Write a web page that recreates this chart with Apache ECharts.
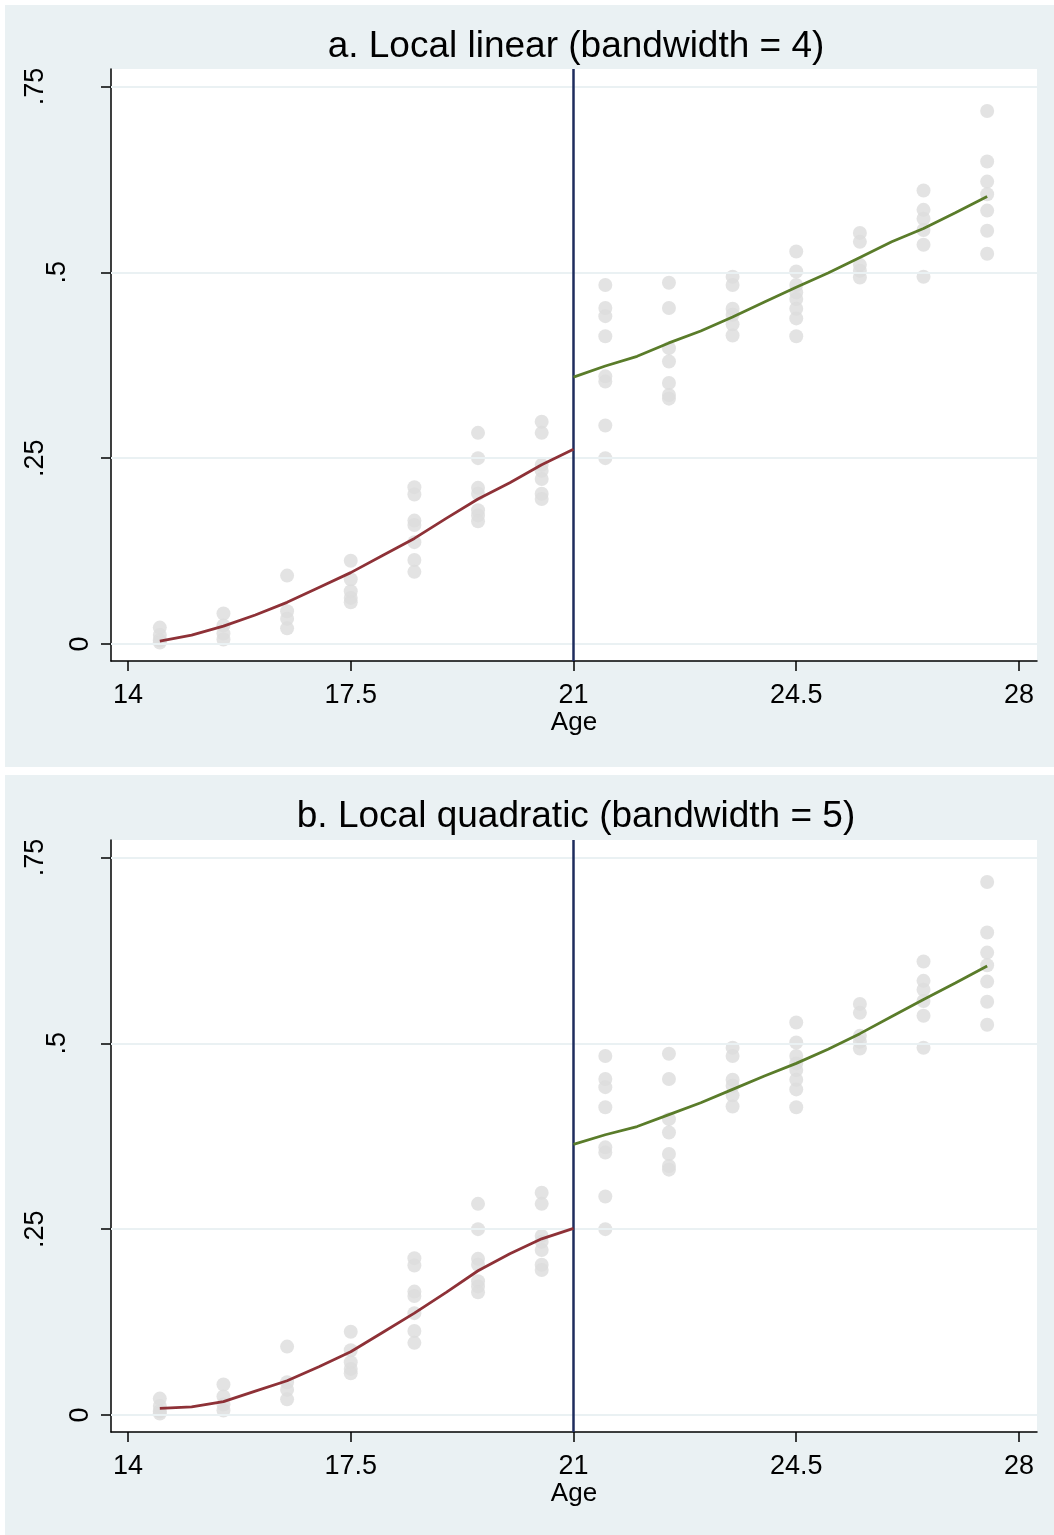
<!DOCTYPE html>
<html>
<head>
<meta charset="utf-8">
<script src="https://cdn.jsdelivr.net/npm/echarts@6/dist/echarts.min.js"></script>
<style>
html,body{margin:0;padding:0;background:#fff;}
#chart{width:1054px;height:1535px;}
</style>
</head>
<body>
<div id="chart"></div>
<script>
// ---- data ----
const panelTitles = ['a. Local linear (bandwidth = 4)', 'b. Local quadratic (bandwidth = 5)'];
const xTickValues = [14, 17.5, 21, 24.5, 28];
const yTickValues = [0, 0.25, 0.5, 0.75];
const yTickLabels = ['0', '.25', '.5', '.75'];
const cutoffAge = 21;

const binAges = [14.5, 15.5, 16.5, 17.5, 18.5, 19.5, 20.5, 21.5, 22.5, 23.5, 24.5, 25.5, 26.5, 27.5];
const binShares = [
  [0.022, 0.012, 0.005, 0.002],
  [0.041, 0.025, 0.014, 0.006],
  [0.092, 0.044, 0.034, 0.021],
  [0.112, 0.087, 0.071, 0.062, 0.056],
  [0.211, 0.201, 0.166, 0.160, 0.137, 0.113, 0.097],
  [0.284, 0.250, 0.210, 0.202, 0.180, 0.173, 0.165],
  [0.299, 0.284, 0.241, 0.233, 0.222, 0.202, 0.195],
  [0.483, 0.452, 0.441, 0.414, 0.360, 0.353, 0.294, 0.250],
  [0.486, 0.452, 0.398, 0.380, 0.351, 0.335, 0.330],
  [0.494, 0.483, 0.451, 0.443, 0.430, 0.415],
  [0.528, 0.501, 0.483, 0.473, 0.464, 0.451, 0.438, 0.414],
  [0.553, 0.541, 0.510, 0.502, 0.493],
  [0.610, 0.584, 0.572, 0.557, 0.537, 0.494],
  [0.717, 0.649, 0.622, 0.605, 0.583, 0.556, 0.525]
];

const fitAgesLeft  = [14.5, 15, 15.5, 16, 16.5, 17, 17.5, 18, 18.5, 19, 19.5, 20, 20.5, 21];
const fitAgesRight = [21, 21.5, 22, 22.5, 23, 23.5, 24, 24.5, 25, 25.5, 26, 26.5, 27, 27.5];
const linearLeft  = [0.004, 0.012, 0.024, 0.039, 0.056, 0.076, 0.096, 0.119, 0.142, 0.169, 0.195, 0.217, 0.241, 0.262];
const linearRight = [0.359, 0.374, 0.387, 0.405, 0.421, 0.440, 0.460, 0.480, 0.499, 0.520, 0.541, 0.559, 0.580, 0.602];
const quadLeft    = [0.009, 0.011, 0.018, 0.032, 0.046, 0.065, 0.085, 0.111, 0.137, 0.165, 0.194, 0.217, 0.237, 0.251];
const quadRight   = [0.364, 0.377, 0.388, 0.404, 0.420, 0.438, 0.456, 0.473, 0.492, 0.513, 0.536, 0.559, 0.581, 0.604];

// ---- build ----
const FONT = "'Liberation Sans', Arial, sans-serif";
const BG = '#eaf1f3';
const scatterPts = [];
binAges.forEach((a, i) => binShares[i].forEach(v => scatterPts.push([a, v])));
const pair = (xs, ys) => xs.map((x, i) => [x, ys[i]]);

const fits = [[linearLeft, linearRight], [quadLeft, quadRight]];
const gridTops = [69, 840];
const titleTops = [28, 798];

const grids = [], xAxes = [], yAxes = [], series = [], titles = [];
gridTops.forEach((top, p) => {
  grids.push({left: 111, top: top, width: 926, height: 592, show: true, backgroundColor: '#fff', borderWidth: 0});
  titles.push({text: panelTitles[p], left: 576, top: titleTops[p], textAlign: 'center', padding: 0,
    textStyle: {fontFamily: FONT, fontSize: 37, fontWeight: 'normal', color: '#000'}});
  xAxes.push({
    type: 'value', gridIndex: p, min: 13.733, max: 28.283,
    name: 'Age', nameLocation: 'middle', nameGap: 47,
    nameTextStyle: {fontFamily: FONT, fontSize: 26, color: '#000'},
    axisLine: {show: true, onZero: false, lineStyle: {color: '#000', width: 1.5}},
    axisTick: {show: true, length: 10, customValues: xTickValues, lineStyle: {color: '#000', width: 1.5}},
    axisLabel: {customValues: xTickValues, margin: 21, fontFamily: FONT, fontSize: 27, color: '#000'},
    splitLine: {show: false}
  });
  yAxes.push({
    type: 'value', gridIndex: p, min: -0.0229, max: 0.7735,
    axisLine: {show: true, onZero: false, lineStyle: {color: '#000', width: 1.5}},
    axisTick: {show: true, length: 10, customValues: yTickValues, lineStyle: {color: '#000', width: 1.5}},
    axisLabel: {
      customValues: yTickValues, rotate: 90, margin: 8,
      fontFamily: FONT, fontSize: 27, color: '#000',
      formatter: v => {
        const i = yTickValues.findIndex(t => Math.abs(t - v) < 1e-6);
        const s = yTickLabels[i];
        return '{p' + s.length + '|' + s + '}';
      },
      rich: {
        p1: {fontFamily: FONT, fontSize: 27, color: '#000', padding: [0, 0, 9, 0]},
        p2: {fontFamily: FONT, fontSize: 27, color: '#000', padding: [0, 0, 32, 0]},
        p3: {fontFamily: FONT, fontSize: 27, color: '#000', padding: [0, 0, 54, 0]}
      }
    },
    splitLine: {show: false}
  });
  series.push({
    type: 'scatter', xAxisIndex: p, yAxisIndex: p, data: scatterPts,
    symbol: 'circle', symbolSize: 14, itemStyle: {color: '#dcdcdc'}, silent: true, z: 3,
    markLine: {
      silent: true, symbol: 'none', label: {show: false},
      lineStyle: {color: BG, width: 2, type: 'solid'},
      data: yTickValues.map(v => ({yAxis: v}))
    }
  });
  series.push({
    type: 'line', xAxisIndex: p, yAxisIndex: p, data: pair(fitAgesLeft, fits[p][0]),
    showSymbol: false, smooth: false, lineStyle: {color: '#8e3137', width: 2.8}, z: 5
  });
  series.push({
    type: 'line', xAxisIndex: p, yAxisIndex: p, data: pair(fitAgesRight, fits[p][1]),
    showSymbol: false, smooth: false, lineStyle: {color: '#5a7c2a', width: 2.8}, z: 5,
    markLine: {
      silent: true, symbol: 'none', label: {show: false},
      lineStyle: {color: '#1f2d5e', width: 2.5, type: 'solid'},
      data: [{xAxis: cutoffAge}]
    }
  });
});

const chart = echarts.init(document.getElementById('chart'), null, {renderer: 'canvas'});
chart.setOption({
  animation: false,
  backgroundColor: '#fff',
  graphic: [
    {type: 'rect', shape: {x: 5, y: 5, width: 1049, height: 762}, style: {fill: BG}, z: -10, silent: true},
    {type: 'rect', shape: {x: 5, y: 775, width: 1049, height: 760}, style: {fill: BG}, z: -10, silent: true}
  ],
  title: titles,
  grid: grids,
  xAxis: xAxes,
  yAxis: yAxes,
  series: series
});
</script>
</body>
</html>
